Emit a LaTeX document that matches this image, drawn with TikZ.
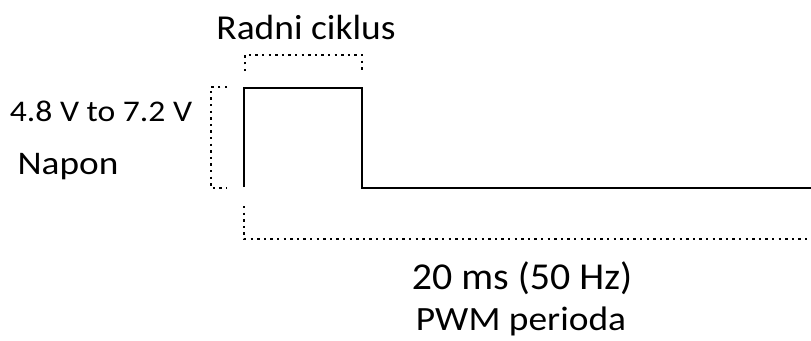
\documentclass[tikz,border=0pt]{standalone}
\usepackage{fontspec}
\setmainfont{Carlito}
\usepackage{tikz}

\tikzset{
    pulse/.style={line width=2.2pt},
    bracket/.style={line width=2.4pt, dash pattern=on 2.4pt off 4.2pt},
    lbl/.style={anchor=base, inner sep=0pt, transform shape}
}

\begin{document}
\begin{tikzpicture}[x=1pt,y=-1pt]
    \useasboundingbox (0,0) rectangle (811,340);

    % Pulse corners
    \coordinate (p0) at (244,187);
    \coordinate (p1) at (244,88);
    \coordinate (p2) at (362,88);
    \coordinate (p3) at (362,188);
    \coordinate (p4) at (811,188);

    % PWM pulse
    \draw[pulse] (p0) -- (p1) -- (p2) -- (p3) -- (p4);

    % Duty cycle bracket
    \draw[bracket] (245,71) -- (245,55) -- (362,55) -- (362,71);
    \node[lbl,xscale=1.07] (duty) at (306,39) {\fontsize{35}{42}\selectfont Radni ciklus};

    % Voltage bracket
    \draw[bracket] (227,87) -- (211,87) -- (211,188) -- (227,188);
    \node[lbl,xscale=1.12] (volt) at (101,121) {\fontsize{30}{36}\selectfont 4.8 V to 7.2 V};
    \node[lbl,xscale=1.13] (napon) at (68,174) {\fontsize{33}{40}\selectfont Napon};

    % Period bracket
    \draw[bracket] (244,206) -- (244,239) -- (811,239);
    \node[lbl,xscale=1.05] (period) at (522,289) {\fontsize{38}{46}\selectfont 20 ms (50 Hz)};
    \node[lbl,xscale=1.1] (pwm) at (521,330) {\fontsize{34}{40}\selectfont PWM perioda};
\end{tikzpicture}
\end{document}
